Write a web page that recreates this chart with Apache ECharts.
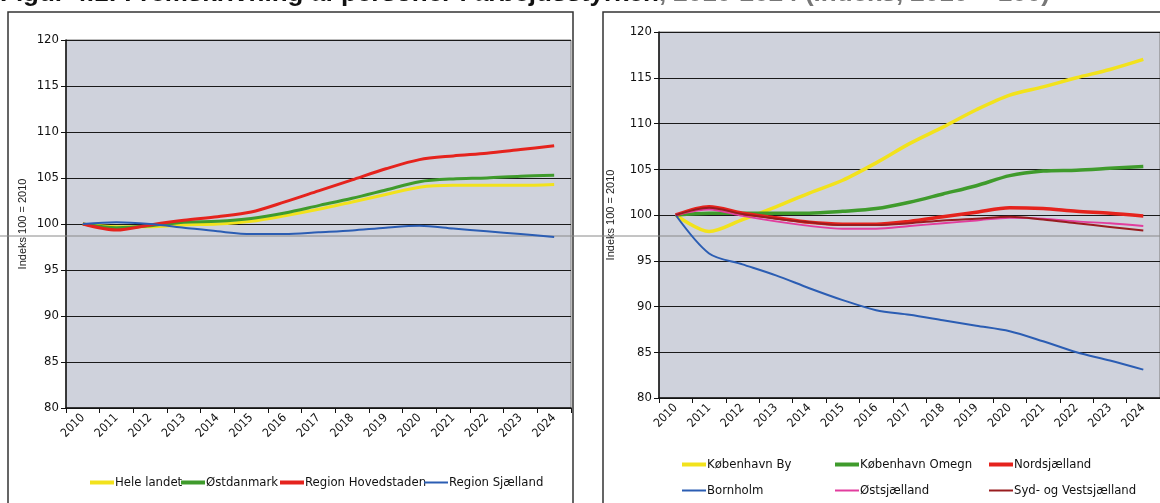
<!DOCTYPE html>
<html>
<head>
<meta charset="utf-8">
<script src="https://cdn.jsdelivr.net/npm/echarts@6/dist/echarts.min.js"></script>
<style>
html,body{margin:0;padding:0;background:#fff;}
#c{width:1160px;height:503px;}
</style>
</head>
<body>
<div id="c"></div>
<script>
const years = ['2010','2011','2012','2013','2014','2015','2016','2017','2018','2019','2020','2021','2022','2023','2024'];
const yTicks = [80, 85, 90, 95, 100, 105, 110, 115, 120];

// Left chart
const heleLandet      = [100, 99.7, 99.7, 99.9, 100.0, 100.3, 100.9, 101.6, 102.4, 103.2, 104.0, 104.2, 104.2, 104.2, 104.3];
const ostdanmark      = [100, 99.6, 99.8, 100.2, 100.3, 100.6, 101.2, 102.0, 102.8, 103.7, 104.6, 104.9, 105.0, 105.2, 105.3];
const hovedstaden     = [100, 99.35, 99.9, 100.4, 100.8, 101.3, 102.4, 103.6, 104.8, 106.0, 107.0, 107.4, 107.7, 108.1, 108.5];
const sjaelland       = [100, 100.2, 100.0, 99.6, 99.2, 98.9, 98.9, 99.1, 99.3, 99.6, 99.8, 99.5, 99.2, 98.9, 98.6];

// Right chart
const kbhBy           = [100, 98.2, 99.5, 100.9, 102.4, 103.8, 105.7, 107.8, 109.6, 111.5, 113.1, 114.0, 115.0, 115.9, 117.0];
const kbhOmegn        = [100, 100.2, 100.2, 100.2, 100.2, 100.4, 100.7, 101.4, 102.3, 103.2, 104.3, 104.8, 104.9, 105.1, 105.3];
const nordsjaelland   = [100, 100.9, 100.2, 99.7, 99.2, 99.0, 99.0, 99.3, 99.8, 100.3, 100.8, 100.7, 100.4, 100.2, 99.9];
const bornholm        = [100, 95.8, 94.6, 93.4, 92.0, 90.7, 89.6, 89.1, 88.5, 87.9, 87.3, 86.2, 85.0, 84.1, 83.1];
const ostsjaelland    = [100, 100.6, 99.9, 99.3, 98.8, 98.5, 98.5, 98.8, 99.1, 99.4, 99.7, 99.6, 99.3, 99.1, 98.8];
const sydVestsjaelland= [100, 100.8, 100.1, 99.6, 99.2, 98.9, 98.9, 99.1, 99.4, 99.6, 99.8, 99.5, 99.1, 98.7, 98.3];

const FONT = "'Liberation Sans Narrow','Arial Narrow','DejaVu Sans Condensed','Liberation Sans',Arial,sans-serif";
const C = {yellow:'#f2e21c', green:'#3f9b2c', red:'#e5231d', blue:'#2b5db3', pink:'#e23d9e', darkred:'#991c1f'};

function xAxis(gi){
  return {
    type:'category', gridIndex:gi, data:years, boundaryGap:true,
    axisLine:{lineStyle:{color:'#111', width:1.5}},
    axisTick:{show:true, length:5, lineStyle:{color:'#111'}},
    axisLabel:{rotate:45, interval:0, fontFamily:FONT, fontSize:12, color:'#111', margin:8}
  };
}
function yAxis(gi, gap){
  return {
    type:'value', gridIndex:gi, min:yTicks[0], max:yTicks[yTicks.length-1], interval:5,
    name:'Indeks 100 = 2010', nameLocation:'middle', nameGap:gap,
    nameTextStyle:{fontFamily:"'Liberation Sans',Arial,sans-serif", fontSize:11, color:'#222'},
    axisLine:{show:true, lineStyle:{color:'#111', width:1.5}},
    axisTick:{show:true, length:5, lineStyle:{color:'#111'}},
    axisLabel:{fontFamily:FONT, fontSize:13, color:'#111', margin:7},
    splitLine:{show:true, lineStyle:{color:'#1a1a1a', width:1}}
  };
}
function ser(name, data, color, w, gi){
  return {name, type:'line', xAxisIndex:gi, yAxisIndex:gi, data, smooth:0.3, showSymbol:false, symbol:'none',
    lineStyle:{color, width:w}, itemStyle:{color}, z:3};
}
function leg(name, left, top, h){
  return {data:[name], left, top, icon:'rect', itemWidth:24, itemHeight:h, itemGap:0, padding:0,
    textStyle:{fontFamily:FONT, fontSize:13, color:'#111', padding:[0,0,0,-4]}};
}

const option = {
  animation:false,
  backgroundColor:'#ffffff',
  grid:[
    {left:66, right:589, top:40, bottom:95, show:true, backgroundColor:'#cfd2dc', borderColor:'#7a7a7a', borderWidth:1},
    {left:659, right:-4, top:32, bottom:105, show:true, backgroundColor:'#cfd2dc', borderColor:'#7a7a7a', borderWidth:1}
  ],
  xAxis:[xAxis(0), xAxis(1)],
  yAxis:[yAxis(0, 38), yAxis(1, 43)],
  legend:[
    leg('Hele landet', 90, 476, 4),
    leg('Østdanmark', 181, 476, 4),
    leg('Region Hovedstaden', 280, 476, 4),
    leg('Region Sjælland', 424, 476, 2),
    leg('København By', 682, 458, 4),
    leg('Bornholm', 682, 484, 2),
    leg('København Omegn', 835, 458, 4),
    leg('Østsjælland', 835, 484, 2),
    leg('Nordsjælland', 989, 458, 4),
    leg('Syd- og Vestsjælland', 989, 484, 2)
  ],
  series:[
    ser('Hele landet', heleLandet, C.yellow, 3, 0),
    ser('Østdanmark', ostdanmark, C.green, 3, 0),
    ser('Region Hovedstaden', hovedstaden, C.red, 3, 0),
    ser('Region Sjælland', sjaelland, C.blue, 2, 0),
    ser('København By', kbhBy, C.yellow, 3.5, 1),
    ser('København Omegn', kbhOmegn, C.green, 3.5, 1),
    ser('Nordsjælland', nordsjaelland, C.red, 3.5, 1),
    ser('Bornholm', bornholm, C.blue, 2, 1),
    ser('Østsjælland', ostsjaelland, C.pink, 1.8, 1),
    ser('Syd- og Vestsjælland', sydVestsjaelland, C.darkred, 2, 1)
  ],
  graphic:[
    {type:'rect', z:1, shape:{x:8, y:12, width:565, height:520}, style:{fill:'none', stroke:'#333', lineWidth:1.5}},
    {type:'rect', z:1, shape:{x:603, y:12, width:600, height:520}, style:{fill:'none', stroke:'#333', lineWidth:1.5}},
    {type:'line', z:1, shape:{x1:0, y1:236, x2:1160, y2:236}, style:{stroke:'#8a8a8a', lineWidth:1}},
    {type:'text', z:10, x:0, y:-19,
      style:{text:'{a|Figur 4.1: Fremskrivning af personer i arbejdsstyrken}{b|, 2010-2024 (indeks, 2010 = 100)}',
        rich:{a:{fontFamily:"'Liberation Sans',Arial,sans-serif", fontWeight:'bold', fontSize:26, fill:'#111'},
              b:{fontFamily:"'Liberation Sans',Arial,sans-serif", fontWeight:'bold', fontSize:26, fill:'#777'}}}}
  ]
};

const chart = echarts.init(document.getElementById('c'), null, {renderer:'canvas'});
chart.setOption(option);
</script>
</body>
</html>
